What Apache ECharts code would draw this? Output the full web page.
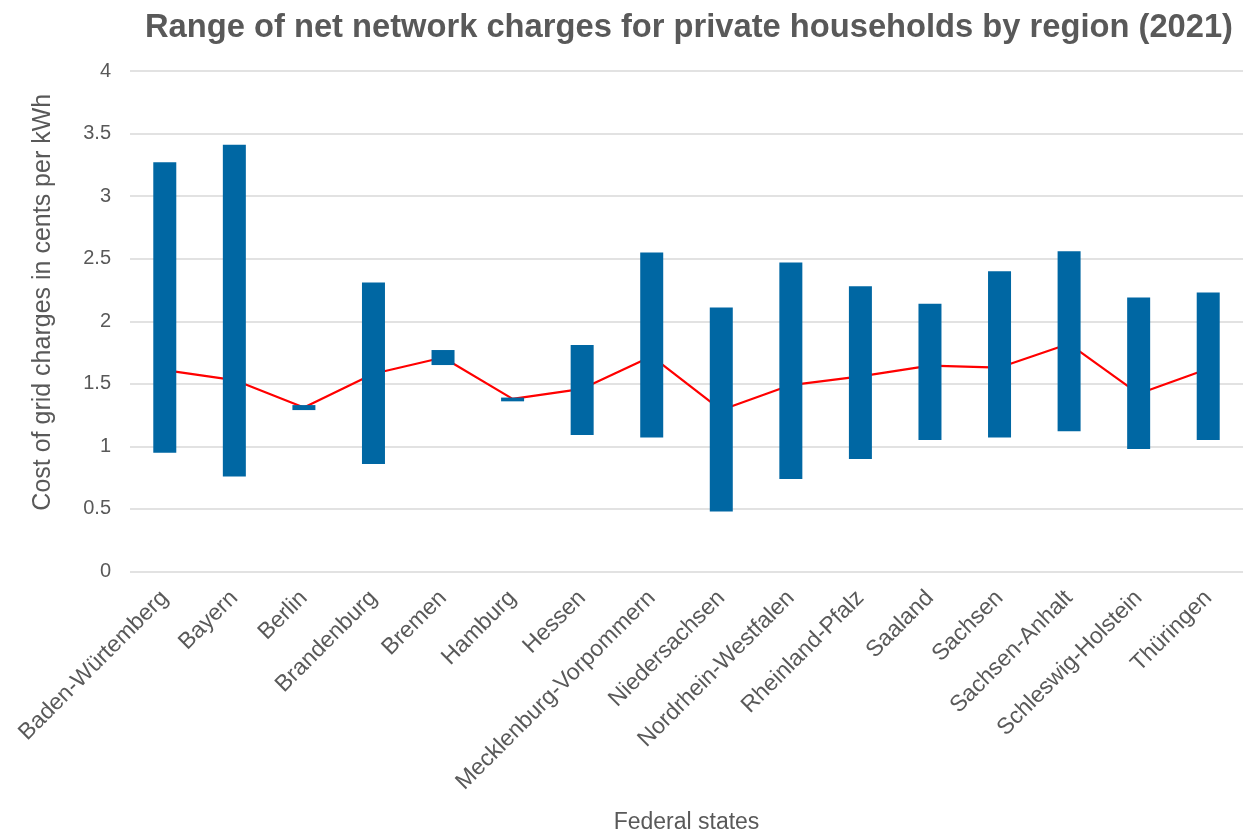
<!DOCTYPE html>
<html>
<head>
<meta charset="utf-8">
<title>Range of net network charges</title>
<script src="https://cdn.jsdelivr.net/npm/echarts@6/dist/echarts.min.js"></script>
<style>
  html, body { margin: 0; padding: 0; background: #fff; }
  #chart { width: 1249px; height: 832px; }
</style>
</head>
<body>
<div id="chart"></div>
<script>
// federal states as written in the source chart
const states = [
  'Baden-Würtemberg', 'Bayern', 'Berlin', 'Brandenburg', 'Bremen', 'Hamburg',
  'Hessen', 'Mecklenburg-Vorpommern', 'Niedersachsen', 'Nordrhein-Westfalen',
  'Rheinland-Pfalz', 'Saaland', 'Sachsen', 'Sachsen-Anhalt', 'Schleswig-Holstein', 'Thüringen'
]
// lowest and highest charge per state (cents/kWh)
const minCharge = [0.95, 0.76, 1.29, 0.86, 1.65, 1.36, 1.09, 1.07, 0.48, 0.74, 0.90, 1.05, 1.07, 1.12, 0.98, 1.05]
const maxCharge = [3.27, 3.41, 1.33, 2.31, 1.77, 1.39, 1.81, 2.55, 2.11, 2.47, 2.28, 2.14, 2.40, 2.56, 2.19, 2.23]
// average charge (red line)
const avgCharge = [1.61, 1.53, 1.31, 1.58, 1.71, 1.38, 1.46, 1.72, 1.29, 1.49, 1.56, 1.645, 1.63, 1.82, 1.42, 1.62]
const yTicks = { min: 0, max: 4, interval: 0.5 }

const grey = '#595959'
const font = '"Liberation Sans", Arial, sans-serif'

// floating bars: transparent base + visible span
const spans = maxCharge.map((v, i) => +(v - minCharge[i]).toFixed(3))

const chart = echarts.init(document.getElementById('chart'))
chart.setOption({
  animation: false,
  textStyle: { fontFamily: font },
  title: {
    text: 'Range of net network charges for private households by region (2021)',
    left: 684,
    textAlign: 'center',
    top: 6,
    textStyle: { fontFamily: font, fontSize: 32.7, fontWeight: 'bold', color: grey }
  },
  grid: { left: 130, right: 6, top: 71, bottom: 260.5, outerBoundsMode: 'none', containLabel: false },
  xAxis: {
    type: 'category',
    data: states,
    name: 'Federal states',
    nameLocation: 'middle',
    nameGap: 240,
    nameTextStyle: { fontFamily: font, fontSize: 23, color: grey },
    axisLine: { show: false },
    axisTick: { show: false },
    axisLabel: { rotate: 45, fontSize: 23, color: grey, margin: 23, interval: 0 }
  },
  yAxis: {
    type: 'value',
    min: yTicks.min,
    max: yTicks.max,
    interval: yTicks.interval,
    name: 'Cost of grid charges in cents per kWh',
    nameLocation: 'middle',
    nameGap: 74,
    nameTextStyle: { fontFamily: font, fontSize: 25, color: grey, padding: [0, 0, 0, 38] },
    axisLabel: { fontSize: 20, color: grey, margin: 19 },
    splitLine: { lineStyle: { color: '#d9d9d9', width: 1.5 } }
  },
  series: [
    {
      type: 'line',
      data: avgCharge,
      z: 1,
      symbol: 'none',
      lineStyle: { color: '#ff0000', width: 2.2 }
    },
    {
      type: 'bar',
      stack: 'range',
      data: minCharge,
      z: 2,
      barWidth: 23,
      itemStyle: { color: 'transparent' }
    },
    {
      type: 'bar',
      stack: 'range',
      data: spans,
      z: 2,
      barWidth: 23,
      itemStyle: { color: '#0067a3' }
    }
  ]
})
</script>
</body>
</html>
